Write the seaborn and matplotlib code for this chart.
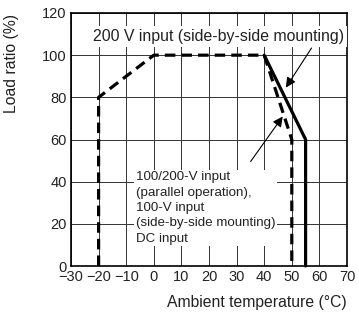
import pandas as pd
import seaborn as sns
import matplotlib.pyplot as plt

# derating curves
temp_dashed = [-20, -20, 0, 40, 50, 50]
load_dashed = [0, 80, 100, 100, 60, 0]
temp_solid = [40, 55, 55]
load_solid = [100, 60, 0]

x_ticks = [-30, -20, -10, 0, 10, 20, 30, 40, 50, 60, 70]
y_ticks = [0, 20, 40, 60, 80, 100, 120]

sns.set_theme(style="white")
plt.rcParams['font.family'] = ['Liberation Sans', 'DejaVu Sans']
plt.rcParams['axes.unicode_minus'] = True

df_dashed = pd.DataFrame({'temp': temp_dashed, 'load': load_dashed})
df_solid = pd.DataFrame({'temp': temp_solid, 'load': load_solid})

fig = plt.figure(figsize=(3.59, 3.13), dpi=100)
ax = fig.add_axes([71 / 359, 47 / 313, 276 / 359, 253 / 313])

sns.lineplot(data=df_solid, x='temp', y='load', sort=False, estimator=None,
             color='black', linewidth=2.3, ax=ax, zorder=3)
sns.lineplot(data=df_dashed, x='temp', y='load', sort=False, estimator=None,
             color='black', linewidth=2.3, ax=ax, zorder=4)
ax.lines[-1].set_dashes((3.3, 1.9))
for l in ax.lines:
    l.set_clip_on(False)
    l.set_solid_joinstyle('miter')

ax.set_xlim(-30, 70)
ax.set_ylim(0, 120)
ax.set_xticks(x_ticks)
ax.set_yticks(y_ticks)
ax.set_xticklabels([str(t).replace('-', '\u2212') for t in x_ticks], fontsize=10.5)
ax.set_yticklabels([str(t) for t in y_ticks], fontsize=10.5)
ax.tick_params(length=0, pad=3, colors='#222222')
ax.grid(True, color='#333333', linewidth=0.7)
for s in ax.spines.values():
    s.set_color('black')
    s.set_linewidth(1.2)

ax.set_xlabel('Ambient temperature (\u00b0C)', fontsize=11.3, color='#222222')
ax.xaxis.set_label_coords(1.0, -0.145)
ax.xaxis.label.set_ha('right')
ax.xaxis.label.set_va('center')
ax.set_ylabel('Load ratio (%)', fontsize=11.3, color='#222222')
ax.yaxis.label.set_va('center')
ax.yaxis.set_label_coords(-0.215, 0.80)

ax.text(23.4, 109, '200 V input (side-by-side mounting)', ha='center', va='center',
        fontsize=11.4, color='#222222', zorder=5,
        bbox=dict(facecolor='white', edgecolor='none', pad=2))
ax.text(-6.6, 27.5, '100/200-V input\n(parallel operation),\n100-V input\n(side-by-side mounting)\nDC input',
        ha='left', va='center', fontsize=9.6, color='#222222', linespacing=1.38, zorder=5,
        bbox=dict(facecolor='white', edgecolor='none', pad=1))

ax.annotate('', xy=(47.3, 83.5), xytext=(57.7, 104.5), zorder=6,
            arrowprops=dict(arrowstyle='-|>', color='black', lw=0.8, mutation_scale=15))
ax.annotate('', xy=(47.3, 72), xytext=(34.5, 48.5), zorder=6,
            arrowprops=dict(arrowstyle='-|>', color='black', lw=0.8, mutation_scale=15))

fig.savefig('out.png', dpi=100)
